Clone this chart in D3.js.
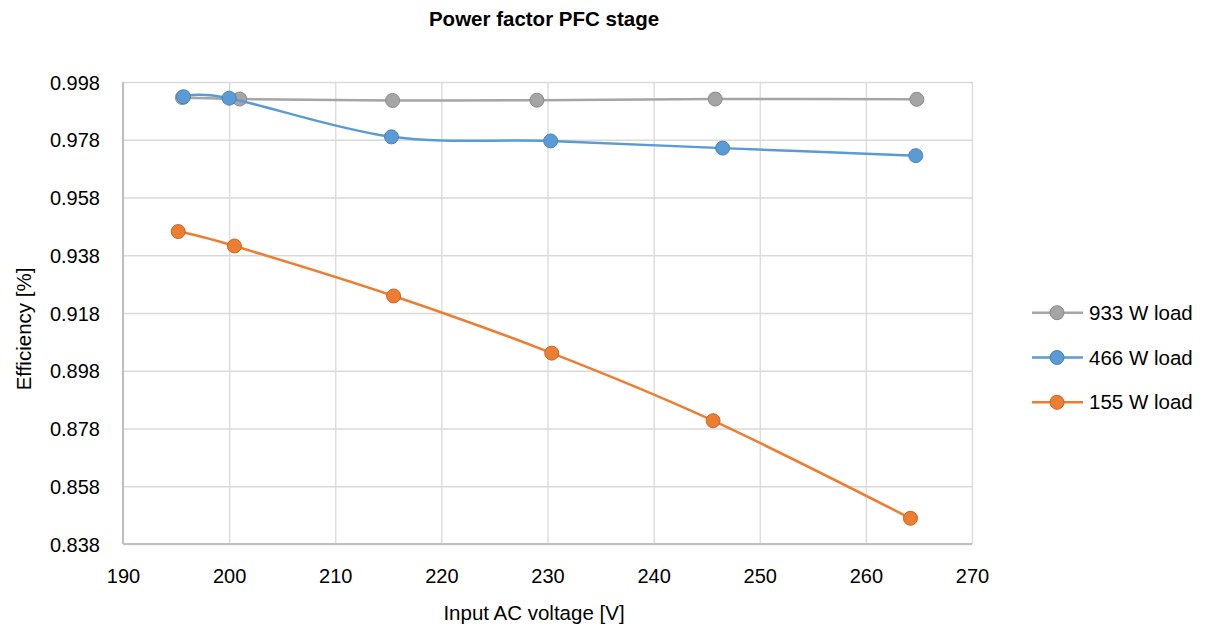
<!DOCTYPE html>
<html>
<head>
<meta charset="utf-8">
<title>Power factor PFC stage</title>
<script src="https://d3js.org/d3.v7.min.js"></script>
<style>
    body { margin: 0; background: #fff; }
    text { font-family: "Liberation Sans", Arial, sans-serif; fill: #000; }
</style>
</head>
<body>
<script>
// values
const seriesNames = ["933 W load", "466 W load", "155 W load"];
const seriesColors = ["#A5A5A5", "#5B9BD5", "#ED7D31"];
const seriesEdges = ["#8a8a8a", "#4a82b8", "#c4682a"];

const load933 = [[195.6, 0.9926], [201.0, 0.9921], [215.4, 0.9916], [229.0, 0.9917], [245.8, 0.9921], [264.8, 0.9920]];
const load466 = [[195.7, 0.9929], [200.0, 0.9924], [215.3, 0.9790], [230.3, 0.9776], [246.5, 0.9751], [264.7, 0.9725]];
const load155 = [[195.2, 0.9462], [200.5, 0.9412], [215.5, 0.9239], [230.4, 0.9041], [245.6, 0.8807], [264.2, 0.8469]];

const xTicks = [190, 200, 210, 220, 230, 240, 250, 260, 270];
const yTicks = [0.838, 0.858, 0.878, 0.898, 0.918, 0.938, 0.958, 0.978, 0.998];

const allSeries = [load933, load466, load155];

let width = 1205, height = 626;
let plotLeft = 123, plotRight = 972, plotTop = 82, plotBottom = 544;

let svg = d3.select("body").append("svg")
    .attr("width", width)
    .attr("height", height);

let x = d3.scaleLinear().domain([190, 270]).range([plotLeft, plotRight]);
let y = d3.scaleLinear().domain([0.838, 0.998]).range([plotBottom, plotTop]);

// grid
svg.append("g")
    .attr("transform", "translate(0," + plotBottom + ")")
    .call(d3.axisBottom(x).tickValues(xTicks).tickSize(-(plotBottom - plotTop)).tickFormat(""))
    .call(g => g.select(".domain").remove())
    .call(g => g.selectAll("line").attr("stroke", "#d9d9d9").attr("stroke-width", 1.3));
svg.append("g")
    .attr("transform", "translate(" + plotLeft + ",0)")
    .call(d3.axisLeft(y).tickValues(yTicks).tickSize(-(plotRight - plotLeft)).tickFormat(""))
    .call(g => g.select(".domain").remove())
    .call(g => g.selectAll("line").attr("stroke", "#d9d9d9").attr("stroke-width", 1.3));

// axis lines
svg.append("line").attr("x1", plotLeft).attr("x2", plotRight).attr("y1", plotBottom).attr("y2", plotBottom)
    .attr("stroke", "#bfbfbf").attr("stroke-width", 2);
svg.append("line").attr("x1", plotLeft).attr("x2", plotLeft).attr("y1", plotTop).attr("y2", plotBottom)
    .attr("stroke", "#bfbfbf").attr("stroke-width", 2);

// tick labels
svg.append("g")
    .attr("transform", "translate(0," + plotBottom + ")")
    .call(d3.axisBottom(x).tickValues(xTicks).tickSize(0).tickPadding(0).tickFormat(d3.format("d")))
    .call(g => g.select(".domain").remove())
    .call(g => g.selectAll("text").attr("dy", null).attr("y", 39)
        .style("font-family", "Liberation Sans, Arial, sans-serif").style("font-size", "20px").attr("fill", "#000"));
svg.append("g")
    .attr("transform", "translate(" + plotLeft + ",0)")
    .call(d3.axisLeft(y).tickValues(yTicks).tickSize(0).tickPadding(0).tickFormat(d3.format(".3f")))
    .call(g => g.select(".domain").remove())
    .call(g => g.selectAll("text").attr("dy", "0.35em").attr("x", -23)
        .style("font-family", "Liberation Sans, Arial, sans-serif").style("font-size", "20px").attr("fill", "#000"));

// titles
svg.append("text").attr("x", 544).attr("y", 26).attr("text-anchor", "middle")
    .style("font-size", "20.5px").style("font-weight", "bold").text("Power factor PFC stage");
svg.append("text").attr("x", 534).attr("y", 620).attr("text-anchor", "middle")
    .style("font-size", "20.5px").text("Input AC voltage [V]");
svg.append("text").attr("transform", "translate(31,329) rotate(-90)").attr("text-anchor", "middle")
    .style("font-size", "20.5px").text("Efficiency [%]");

// series
let line = d3.line()
    .x(d => x(d[0]))
    .y(d => y(d[1]))
    .curve(d3.curveCatmullRom.alpha(0));

allSeries.forEach((data, i) => {
    let g = svg.append("g");
    g.append("path")
        .attr("d", line(data))
        .attr("fill", "none")
        .attr("stroke", seriesColors[i])
        .attr("stroke-width", 2.5);
    g.selectAll("circle").data(data).join("circle")
        .attr("cx", d => x(d[0]))
        .attr("cy", d => y(d[1]))
        .attr("r", 7)
        .attr("fill", seriesColors[i])
        .attr("stroke", seriesEdges[i])
        .attr("stroke-width", 1);
});

// legend
let legend = svg.append("g");
seriesNames.forEach((name, i) => {
    let ly = 312.7 + i * 44.8;
    legend.append("line").attr("x1", 1032).attr("x2", 1083).attr("y1", ly).attr("y2", ly)
        .attr("stroke", seriesColors[i]).attr("stroke-width", 2.5);
    legend.append("circle").attr("cx", 1057).attr("cy", ly).attr("r", 7)
        .attr("fill", seriesColors[i]).attr("stroke", seriesEdges[i]).attr("stroke-width", 1);
    legend.append("text").attr("x", 1089).attr("y", ly).attr("dy", "0.35em")
        .style("font-size", "20.5px").text(name);
});
</script>
</body>
</html>
